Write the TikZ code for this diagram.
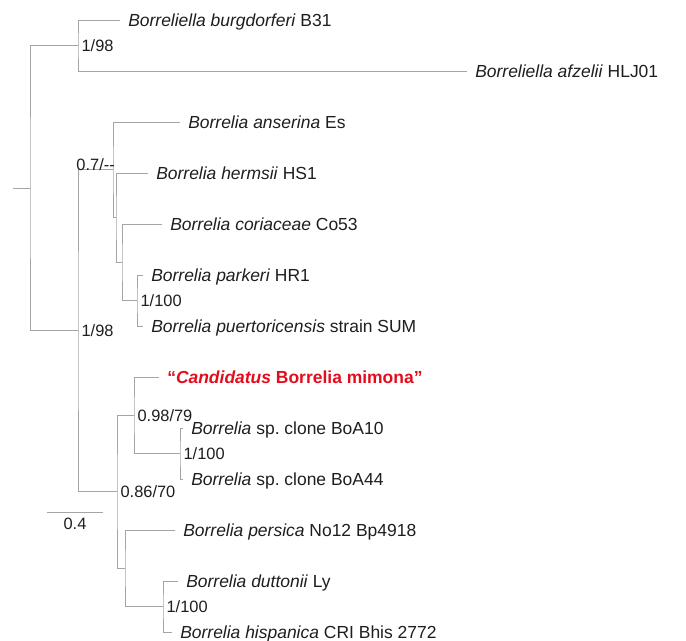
\documentclass[tikz,border=0pt]{standalone}
\usepackage{fontspec}
\setmainfont{Liberation Sans}
\frenchspacing
\definecolor{branchgray}{RGB}{165,165,165}
\definecolor{taxontext}{RGB}{30,30,30}
\definecolor{mimonared}{RGB}{228,12,28}
\begin{document}
\begin{tikzpicture}[x=0.75pt,y=0.75pt,yscale=-1,xscale=1,
    branch/.style={draw=branchgray,line width=0.7pt},
    taxon/.style={anchor=base west,inner sep=0pt,xshift=6pt,yshift=-4.7pt,text=taxontext,font=\fontsize{13.1}{15}\selectfont},
    support/.style={anchor=base west,inner sep=0pt,xshift=2.5pt,yshift=-4.4pt,text=taxontext,font=\fontsize{12.3}{14}\selectfont}]
    \useasboundingbox (0,0) rectangle (686,641);
    % Tips
    \coordinate (tBur) at (120,20);
    \coordinate (tAfz) at (467,71);
    \coordinate (tAns) at (180,122);
    \coordinate (tHer) at (148,173);
    \coordinate (tCor) at (162,224);
    \coordinate (tPar) at (143,275);
    \coordinate (tPue) at (143,326);
    \coordinate (tMim) at (159,377);
    \coordinate (tBoa10) at (183,428);
    \coordinate (tBoa44) at (183,479);
    \coordinate (tPer) at (175,530);
    \coordinate (tDut) at (178,581);
    \coordinate (tHis) at (172,632);
    % Internal nodes
    \coordinate (nStub) at (13,188.1);
    \coordinate (nRoot) at (30,188.1);
    \coordinate (nBb) at (78,45.5);
    \coordinate (nBr) at (78,330.8);
    \coordinate (nA) at (113,169.8);
    \coordinate (nB) at (116,217.6);
    \coordinate (nD) at (122,262.2);
    \coordinate (nC) at (137,300.5);
    \coordinate (nG) at (117,491.7);
    \coordinate (nE) at (134,415.2);
    \coordinate (nF) at (180,453.5);
    \coordinate (nH) at (125,568.2);
    \coordinate (nI) at (163,606.5);
    % Branches
    \draw[branch] (nStub) -- (nRoot);
    \draw[branch] (nBb) -| (nRoot) |- (nBr);
    \draw[branch] (tBur) -| (nBb) |- (tAfz);
    \draw[branch] (nA) -| (nBr) |- (nG);
    \draw[branch] (tAns) -| (nA) |- (nB);
    \draw[branch] (tHer) -| (nB) |- (nD);
    \draw[branch] (tCor) -| (nD) |- (nC);
    \draw[branch] (tPar) -| (nC) |- (tPue);
    \draw[branch] (nE) -| (nG) |- (nH);
    \draw[branch] (tMim) -| (nE) |- (nF);
    \draw[branch] (tBoa10) -| (nF) |- (tBoa44);
    \draw[branch] (tPer) -| (nH) |- (nI);
    \draw[branch] (tDut) -| (nI) |- (tHis);
    % Taxon labels
    \node[taxon] (lBur) at (tBur) {\textit{Borreliella burgdorferi} B31};
    \node[taxon] (lAfz) at (tAfz) {\textit{Borreliella afzelii} HLJ01};
    \node[taxon] (lAns) at (tAns) {\textit{Borrelia anserina} Es};
    \node[taxon] (lHer) at (tHer) {\textit{Borrelia hermsii} HS1};
    \node[taxon] (lCor) at (tCor) {\textit{Borrelia coriaceae} Co53};
    \node[taxon] (lPar) at (tPar) {\textit{Borrelia parkeri} HR1};
    \node[taxon] (lPue) at (tPue) {\textit{Borrelia puertoricensis} strain SUM};
    \node[taxon,text=mimonared,font=\fontsize{13.1}{15}\selectfont\bfseries] (lMim) at (tMim) {“\textit{Candidatus} Borrelia mimona”};
    \node[taxon] (lBoa10) at (tBoa10) {\textit{Borrelia} sp. clone BoA10};
    \node[taxon] (lBoa44) at (tBoa44) {\textit{Borrelia} sp. clone BoA44};
    \node[taxon] (lPer) at (tPer) {\textit{Borrelia persica} No12 Bp4918};
    \node[taxon] (lDut) at (tDut) {\textit{Borrelia duttonii} Ly};
    \node[taxon] (lHis) at (tHis) {\textit{Borrelia hispanica} CRI Bhis 2772};
    % Support values
    \node[support] (sBb) at (nBb) {1/98};
    \node[support] (sBr) at (nBr) {1/98};
    \node[support,anchor=base east,xshift=-1pt,yshift=3.8pt] (sA) at (nA) {0.7/-{}-};
    \node[support] (sC) at (nC) {1/100};
    \node[support] (sE) at (nE) {0.98/79};
    \node[support] (sF) at (nF) {1/100};
    \node[support] (sG) at (nG) {0.86/70};
    \node[support] (sI) at (nI) {1/100};
    % Scale bar
    \coordinate (sb0) at (47,512);
    \coordinate (sb1) at (103,512);
    \draw[branch] (sb0) -- (sb1) node[midway,anchor=north,inner sep=0pt,yshift=-4.5pt,text=taxontext,font=\fontsize{12.3}{14}\selectfont] (sbLabel) {0.4};
\end{tikzpicture}
\end{document}
